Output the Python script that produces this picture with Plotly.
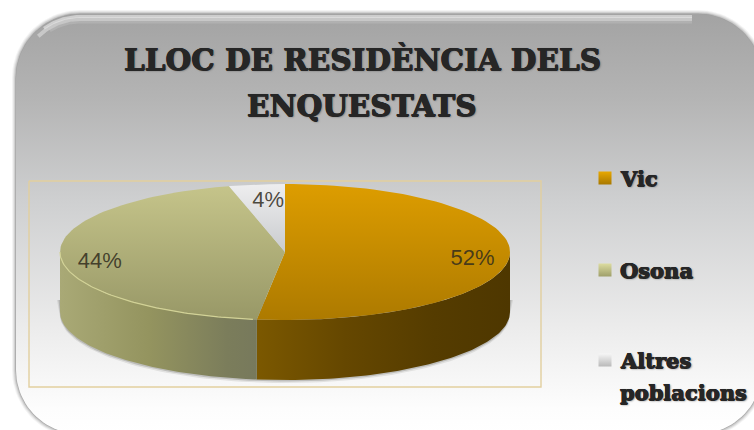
import numpy as np
import plotly.graph_objects as go

# Survey shares
categories = ["Vic", "Osona", "Altres poblacions"]
shares = [52, 44, 4]
title_lines = ["LLOC DE RESIDÈNCIA DELS", "ENQUESTATS"]
legend_lines = [["Vic"], ["Osona"], ["Altres", "poblacions"]]

# Geometry of the drawing, in page pixels
W, H = 754, 430
CX, CY, RX, RY, DEPTH = 285, 252, 225, 68, 60
CARD = (16, 14, 762, 434, 64)
FRAME = (29, 181, 541, 387)
LABEL_RADIUS = [0.835, 0.825, 0.70]
LABEL_SHIFT = [(0, 4), (0, 7), (3, -3)]
LEGEND_Y = [178, 270, 360]
LEGEND_LINE_GAP = 32

TOP_COLORS = [("#dd9d00", "#ad7a00"), ("#c5c48a", "#989867"), ("#eeeeef", "#c9cbce")]
WALL_SCALES = [
    [[0, "#7b5800"], [0.35, "#654700"], [0.7, "#553c00"], [1, "#4e3700"]],
    [[0, "#a9a976"], [0.45, "#94945f"], [0.85, "#7b7d5b"], [1, "#77795c"]],
]
FONT_SERIF = "DejaVu Serif"
FONT_SANS = "Liberation Sans"
TEXT = "#262626"
HEAVY = "0.5px 0 0 #262626, -0.5px 0 0 #262626, 0 0.5px 0 #262626, 0 -0.5px 0 #262626, 1px 1px 2px #666666"


def rounded_rect(x0, y0, x1, y1, r, grow=0.0):
    """Closed outline of a rounded rectangle, optionally grown outwards."""
    x0, y0, x1, y1, r = x0 - grow, y0 - grow, x1 + grow, y1 + grow, r + grow
    t = np.linspace(0, np.pi / 2, 24)
    xs = np.concatenate([x0 + r - r * np.cos(t), x1 - r + r * np.sin(t),
                         x1 - r + r * np.cos(t), x0 + r - r * np.sin(t)])
    ys = np.concatenate([y0 + r - r * np.sin(t), y0 + r - r * np.cos(t),
                         y1 - r + r * np.sin(t), y1 - r + r * np.cos(t)])
    return np.append(xs, xs[0]), np.append(ys, ys[0])


def arc(a0, a1, n=90, dy=0.0):
    """Points of the rim ellipse; angles run clockwise from twelve o'clock."""
    t = np.radians(np.linspace(a0, a1, n))
    return CX + RX * np.sin(t), CY - RY * np.cos(t) + dy


def gradient(direction, scale):
    return dict(type=direction, colorscale=scale)


fig = go.Figure()


def poly(xs, ys, **kw):
    fig.add_trace(go.Scatter(x=xs, y=ys, mode="lines", hoverinfo="skip",
                             showlegend=False, **kw))


# Soft shadow round the card
for grow, alpha in [(4, 0.06), (3, 0.08), (2, 0.12), (1, 0.16), (0.3, 0.22)]:
    xs, ys = rounded_rect(*CARD, grow=grow)
    poly(xs, ys, fill="toself", fillcolor=f"rgba(60,60,60,{alpha})", line=dict(width=0))

# Card with its top-to-bottom grey fade
xs, ys = rounded_rect(*CARD)
poly(xs, ys, fill="toself", line=dict(width=0),
     fillgradient=gradient("vertical", [[0, "#ffffff"], [0.06, "#fdfdfd"], [0.25, "#ececec"],
                                        [0.55, "#cfd0d1"], [0.8, "#b4b4b4"], [1, "#a3a3a3"]]))

# Bevel highlight along the top edge, tapering round the corner
corner_x, corner_y = CARD[0] + CARD[4], CARD[1] + CARD[4]
top_end = CARD[2] - CARD[4] - 6
for inset, width, start, color in [(2.5, 3, 1.30, "rgba(240,240,240,0.55)"),
                                   (5, 4, 1.25, "rgba(228,228,228,0.55)"),
                                   (8, 3, 1.32, "rgba(200,200,200,0.35)")]:
    r = CARD[4] - inset
    t = np.linspace(start * np.pi, 1.5 * np.pi, 24)
    hx = np.concatenate([corner_x + r * np.cos(t), [top_end]])
    hy = np.concatenate([corner_y + r * np.sin(t), [corner_y - r]])
    poly(hx, hy, line=dict(color=color, width=width))

# Plot-area frame
fx0, fy0, fx1, fy1 = FRAME
poly([fx0, fx1, fx1, fx0, fx0], [fy0, fy0, fy1, fy1, fy0],
     line=dict(color="#e2cf9f", width=1.4))

# Cumulative slice bounds, clockwise from twelve o'clock
edges = np.concatenate([[0], np.cumsum(shares)]) * 3.6

# Soft contact shadow under the base
for grow, alpha in [(3, 0.10), (1.5, 0.20)]:
    sx, sy = arc(90, 270, dy=DEPTH)
    poly(np.concatenate([[CX + RX + grow], sx, [CX - RX - grow]]),
         np.concatenate([[CY + 48], sy + grow, [CY + 48]]),
         fill="toself", fillcolor=f"rgba(50,50,40,{alpha})", line=dict(width=0))

# Visible outer walls of the two front slices
for i in range(2):
    a0, a1 = max(edges[i], 90), min(edges[i + 1], 270)
    tx, ty = arc(a0, a1)
    poly(np.concatenate([tx, tx[::-1], tx[:1]]),
         np.concatenate([ty, ty[::-1] + DEPTH, ty[:1]]),
         fill="toself", line=dict(width=0),
         fillgradient=gradient("horizontal", WALL_SCALES[i]))

# Top faces of the slices
for i in range(len(shares)):
    tx, ty = arc(edges[i], edges[i + 1])
    hi, lo = TOP_COLORS[i]
    poly(np.concatenate([[CX], tx, [CX]]), np.concatenate([[CY], ty, [CY]]),
         fill="toself", line=dict(width=0),
         fillgradient=gradient("vertical", [[0, lo], [1, hi]]))

# Thin light rim along the front of the olive slice
rx_, ry_ = arc(edges[1] + 1, 270)
poly(rx_, ry_, line=dict(color="#d2d296", width=1.2))

# Percentage labels placed along each slice's middle angle
mids = (edges[:-1] + edges[1:]) / 2
lx = [CX + RX * f * np.sin(np.radians(m)) + s[0] for m, f, s in zip(mids, LABEL_RADIUS, LABEL_SHIFT)]
ly = [CY - RY * f * np.cos(np.radians(m)) + s[1] for m, f, s in zip(mids, LABEL_RADIUS, LABEL_SHIFT)]
fig.add_trace(go.Scatter(x=lx, y=ly, mode="text", text=[f"{v}%" for v in shares],
                         textposition="middle center", hoverinfo="skip", showlegend=False,
                         textfont=dict(family=FONT_SANS, size=22, color="rgba(50,45,30,0.85)")))

# Legend swatches
fig.add_trace(go.Scatter(
    x=[605, 605, 605], y=LEGEND_Y,
    mode="markers", hoverinfo="skip", showlegend=False,
    marker=dict(symbol="square", size=13, color=["#e8a800", "#dcdca0", "#f6f6f6"],
                line=dict(width=0),
                gradient=dict(type="vertical", color=["#a87800", "#9f9f6a", "#b9b9b9"]))))

layout_annotations = []
for text, y in zip(title_lines, [59, 105]):
    layout_annotations.append(dict(
        x=362, y=y, text=f"<b>{text}</b>", showarrow=False, xanchor="center", yanchor="middle",
        font=dict(family=FONT_SERIF, size=29.5, color=TEXT, shadow=HEAVY)))
for lines, y in zip(legend_lines, LEGEND_Y):
    for k, line in enumerate(lines):
        layout_annotations.append(dict(
            x=618, y=y + k * LEGEND_LINE_GAP, text=f"<b>{line}</b>", showarrow=False,
            xanchor="left", yanchor="middle",
            font=dict(family=FONT_SERIF, size=21, color=TEXT, shadow=HEAVY)))

fig.update_layout(
    width=W, height=H, margin=dict(l=0, r=0, t=0, b=0, pad=0),
    paper_bgcolor="white", plot_bgcolor="white", showlegend=False,
    xaxis=dict(range=[0, W], visible=False, fixedrange=True),
    yaxis=dict(range=[H, 0], visible=False, fixedrange=True),
    annotations=layout_annotations,
)

fig.write_html("out.html", config={"displayModeBar": False})
